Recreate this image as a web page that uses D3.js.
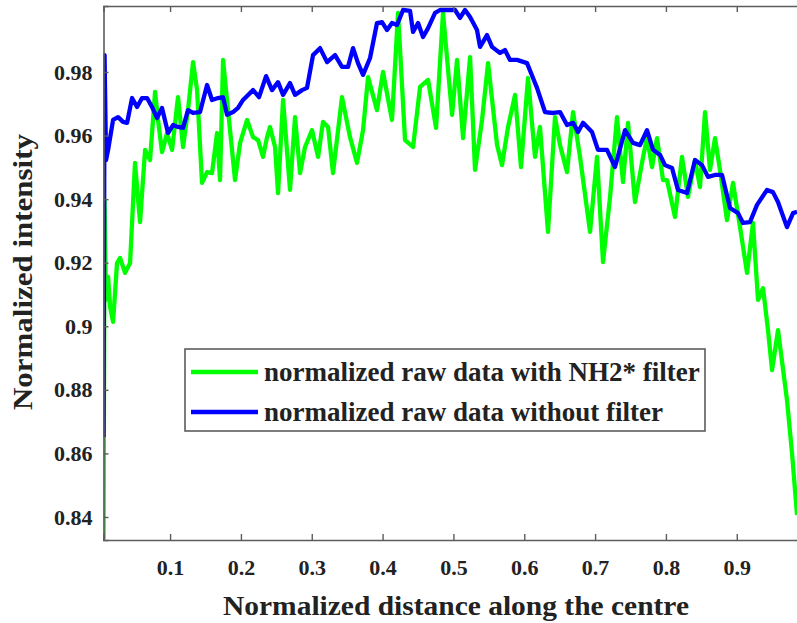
<!DOCTYPE html>
<html>
<head>
<meta charset="utf-8">
<script src="https://cdn.jsdelivr.net/npm/d3@7"></script>
<style>
  body { margin: 0; background: #fff; }
  text { font-family: "Liberation Serif", "Times New Roman", serif; font-weight: bold; fill: #222; }
</style>
</head>
<body>
<div id="chart"></div>
<script>
// data
var xTicks = [0.1, 0.2, 0.3, 0.4, 0.5, 0.6, 0.7, 0.8, 0.9];
var yTicks = [0.84, 0.86, 0.88, 0.9, 0.92, 0.94, 0.96, 0.98];
var seriesNames = ["normalized raw data with NH2* filter", "normalized raw data without filter"];

var greenX = [0.0061, 0.0075, 0.0096, 0.0125, 0.0153, 0.0195, 0.0251, 0.0294, 0.0364, 0.0435,
  0.0505, 0.0576, 0.0647, 0.0717, 0.0788, 0.0830, 0.0886, 0.0957, 0.1028, 0.1112,
  0.1183, 0.1253, 0.1324, 0.1381, 0.1451, 0.1522, 0.1592, 0.1663, 0.1705, 0.1748,
  0.1804, 0.1917, 0.1988, 0.2087, 0.2171, 0.2242, 0.2312, 0.2369, 0.2411, 0.2482,
  0.2524, 0.2595, 0.2693, 0.2764, 0.2835, 0.2905, 0.3004, 0.3089, 0.3159, 0.3230,
  0.3300, 0.3427, 0.3540, 0.3639, 0.3724, 0.3795, 0.3921, 0.4006, 0.4133, 0.4218,
  0.4317, 0.4430, 0.4529, 0.4642, 0.4755, 0.4853, 0.4981, 0.5051, 0.5136, 0.5235,
  0.5305, 0.5404, 0.5489, 0.5616, 0.5686, 0.5771, 0.5870, 0.5954, 0.6053, 0.6152,
  0.6222, 0.6335, 0.6434, 0.6505, 0.6604, 0.6689, 0.6787, 0.6929, 0.7027, 0.7112,
  0.7211, 0.7309, 0.7394, 0.7465, 0.7563, 0.7662, 0.7733, 0.7804, 0.7874, 0.7959,
  0.8015, 0.8128, 0.8227, 0.8312, 0.8411, 0.8481, 0.8552, 0.8622, 0.8693, 0.8763,
  0.8862, 0.8947, 0.9046, 0.9145, 0.9229, 0.9300, 0.9371, 0.9441, 0.9498, 0.9582,
  0.9709, 0.9780, 0.9851];
var greenY = [0.8330, 0.9397, 0.9083, 0.9155, 0.9061, 0.9014, 0.9199, 0.9215, 0.9168, 0.9199,
  0.9514, 0.9328, 0.9555, 0.9523, 0.9737, 0.9649, 0.9548, 0.9608, 0.9555, 0.9721,
  0.9564, 0.9680, 0.9831, 0.9743, 0.9451, 0.9485, 0.9482, 0.9608, 0.9460, 0.9838,
  0.9712, 0.9460, 0.9577, 0.9649, 0.9595, 0.9586, 0.9533, 0.9595, 0.9627, 0.9564,
  0.9419, 0.9712, 0.9429, 0.9658, 0.9482, 0.9564, 0.9617, 0.9533, 0.9643, 0.9627,
  0.9482, 0.9721, 0.9595, 0.9514, 0.9617, 0.9784, 0.9680, 0.9800, 0.9649, 0.9986,
  0.9586, 0.9564, 0.9753, 0.9775, 0.9624, 0.9986, 0.9665, 0.9838, 0.9592, 0.9847,
  0.9492, 0.9649, 0.9828, 0.9570, 0.9507, 0.9627, 0.9728, 0.9501, 0.9781, 0.9533,
  0.9627, 0.9297, 0.9658, 0.9570, 0.9485, 0.9674, 0.9533, 0.9297, 0.9533, 0.9202,
  0.9407, 0.9658, 0.9454, 0.9640, 0.9391, 0.9514, 0.9595, 0.9501, 0.9592, 0.9460,
  0.9460, 0.9344, 0.9533, 0.9407, 0.9523, 0.9438, 0.9674, 0.9492, 0.9592, 0.9492,
  0.9334, 0.9451, 0.9312, 0.9168, 0.9325, 0.9083, 0.9120, 0.8988, 0.8862, 0.8988,
  0.8768, 0.8601, 0.8406];

var blueX = [0.0061, 0.0075, 0.0096, 0.0125, 0.0195, 0.0266, 0.0336, 0.0393, 0.0463, 0.0534,
  0.0604, 0.0675, 0.0745, 0.0816, 0.0886, 0.0971, 0.1042, 0.1112, 0.1183, 0.1253,
  0.1324, 0.1423, 0.1522, 0.1592, 0.1677, 0.1748, 0.1804, 0.1889, 0.1959, 0.2030,
  0.2171, 0.2256, 0.2355, 0.2439, 0.2524, 0.2595, 0.2693, 0.2764, 0.2863, 0.2933,
  0.3018, 0.3117, 0.3216, 0.3329, 0.3427, 0.3512, 0.3583, 0.3653, 0.3724, 0.3823,
  0.3921, 0.3992, 0.4063, 0.4133, 0.4204, 0.4289, 0.4388, 0.4430, 0.4501, 0.4571,
  0.4642, 0.4741, 0.4811, 0.4910, 0.5023, 0.5093, 0.5164, 0.5235, 0.5333, 0.5376,
  0.5474, 0.5545, 0.5658, 0.5728, 0.5799, 0.5898, 0.6039, 0.6124, 0.6180, 0.6293,
  0.6406, 0.6505, 0.6604, 0.6689, 0.6759, 0.6830, 0.6957, 0.7041, 0.7168, 0.7281,
  0.7423, 0.7535, 0.7634, 0.7733, 0.7818, 0.7917, 0.7987, 0.8086, 0.8170, 0.8298,
  0.8411, 0.8509, 0.8594, 0.8693, 0.8792, 0.8905, 0.9018, 0.9088, 0.9187, 0.9286,
  0.9427, 0.9511, 0.9582, 0.9709, 0.9794, 0.9851];
var blueY = [0.8652, 0.9853, 0.9523, 0.9555, 0.9649, 0.9658, 0.9643, 0.9640, 0.9718, 0.9690,
  0.9718, 0.9718, 0.9690, 0.9655, 0.9687, 0.9608, 0.9633, 0.9627, 0.9624, 0.9680,
  0.9671, 0.9674, 0.9759, 0.9712, 0.9718, 0.9721, 0.9665, 0.9674, 0.9687, 0.9712,
  0.9743, 0.9721, 0.9787, 0.9743, 0.9768, 0.9728, 0.9765, 0.9728, 0.9743, 0.9750,
  0.9853, 0.9875, 0.9831, 0.9853, 0.9816, 0.9816, 0.9875, 0.9828, 0.9791, 0.9844,
  0.9954, 0.9957, 0.9932, 0.9954, 0.9948, 0.9995, 0.9992, 0.9926, 0.9954, 0.9910,
  0.9938, 0.9986, 0.9995, 0.9995, 0.9995, 0.9970, 0.9995, 0.9973, 0.9932, 0.9879,
  0.9916, 0.9879, 0.9860, 0.9869, 0.9838, 0.9838, 0.9828, 0.9781, 0.9750, 0.9674,
  0.9671, 0.9674, 0.9633, 0.9640, 0.9611, 0.9640, 0.9611, 0.9555, 0.9555, 0.9501,
  0.9617, 0.9577, 0.9570, 0.9617, 0.9555, 0.9539, 0.9507, 0.9498, 0.9429, 0.9419,
  0.9523, 0.9507, 0.9470, 0.9476, 0.9476, 0.9372, 0.9356, 0.9325, 0.9328, 0.9382,
  0.9429, 0.9422, 0.9391, 0.9312, 0.9356, 0.9360];

var width = 797, height = 623;
var plot = {left: 103.5, right: 807.6, top: 6, bottom: 540};
var axisColor = "#5c5c5c";

var svg = d3.select("#chart").append("svg")
    .attr("width", width)
    .attr("height", height);

// scales (right edge of the axes is cut off by the window, like the original)
var x = d3.scaleLinear().domain([0.006, 1]).range([plot.left, plot.right]);
var y = d3.scaleLinear().domain([0.83276, 1.00076]).range([plot.bottom, plot.top]);

svg.append("clipPath").attr("id", "clip")
  .append("rect")
    .attr("x", plot.left)
    .attr("y", plot.top)
    .attr("width", plot.right - plot.left)
    .attr("height", plot.bottom - plot.top);

// lines
var line = d3.line()
    .x(function(d) { return x(d[0]); })
    .y(function(d) { return y(d[1]); });

var green = d3.zip(greenX, greenY);
var blue = d3.zip(blueX, blueY);

var lines = svg.append("g").attr("clip-path", "url(#clip)");
lines.append("path")
    .datum(green)
    .attr("d", line)
    .attr("fill", "none")
    .attr("stroke", "#00ff00")
    .attr("stroke-width", 4.3)
    .attr("stroke-linejoin", "round");
lines.append("path")
    .datum(blue)
    .attr("d", line)
    .attr("fill", "none")
    .attr("stroke", "#0000ff")
    .attr("stroke-width", 4.3)
    .attr("stroke-linejoin", "round");

// axes, matlab style ticks pointing inwards
var xAxis = d3.axisBottom(x).tickValues(xTicks).tickSize(-6).tickPadding(19)
    .tickFormat(d3.format(".1f"));
var gx = svg.append("g")
    .attr("transform", "translate(0," + plot.bottom + ")")
    .call(xAxis);

var xTop = d3.axisTop(x).tickValues(xTicks).tickSize(-6).tickFormat("");
var gt = svg.append("g")
    .attr("transform", "translate(0," + plot.top + ")")
    .call(xTop);

var yAxis = d3.axisLeft(y).tickValues(yTicks).tickSize(-5).tickPadding(11)
    .tickFormat(function(d) { return d === 0.9 ? "0.9" : d3.format(".2f")(d); });
var gy = svg.append("g")
    .attr("transform", "translate(" + plot.left + ",0)")
    .call(yAxis);

[gx, gt, gy].forEach(function(g) {
  g.select(".domain").attr("stroke", axisColor).attr("stroke-width", 1.6);
  g.selectAll(".tick line").attr("stroke", axisColor).attr("stroke-width", 1.4);
  g.selectAll(".tick text")
    .style("font-size", "22px")
    .style("font-family", "'Liberation Serif', serif")
    .style("font-weight", "bold")
    .attr("fill", "#222");
});

// axis titles
svg.append("text")
    .text("Normalized distance along the centre")
    .attr("x", 456)
    .attr("y", 615)
    .attr("text-anchor", "middle")
    .attr("textLength", 466)
    .attr("lengthAdjust", "spacingAndGlyphs")
    .style("font-size", "28px");

svg.append("text")
    .text("Normalized intensity")
    .attr("transform", "translate(32,272) rotate(-90)")
    .attr("text-anchor", "middle")
    .attr("textLength", 276)
    .attr("lengthAdjust", "spacingAndGlyphs")
    .style("font-size", "28px");

// legend
var legend = svg.append("g");
legend.append("rect")
    .attr("x", 185)
    .attr("y", 349)
    .attr("width", 520)
    .attr("height", 82)
    .attr("fill", "#fff")
    .attr("stroke", axisColor)
    .attr("stroke-width", 1.6);

var legendColors = ["#00ff00", "#0000ff"];
seriesNames.forEach(function(name, i) {
  var ly = 372 + i * 40;
  legend.append("line")
      .attr("x1", 191).attr("x2", 258)
      .attr("y1", ly).attr("y2", ly)
      .attr("stroke", legendColors[i])
      .attr("stroke-width", 4.3);
  legend.append("text")
      .text(name)
      .attr("x", 264)
      .attr("y", ly + 9)
      .style("font-size", "27px");
});
</script>
</body>
</html>
